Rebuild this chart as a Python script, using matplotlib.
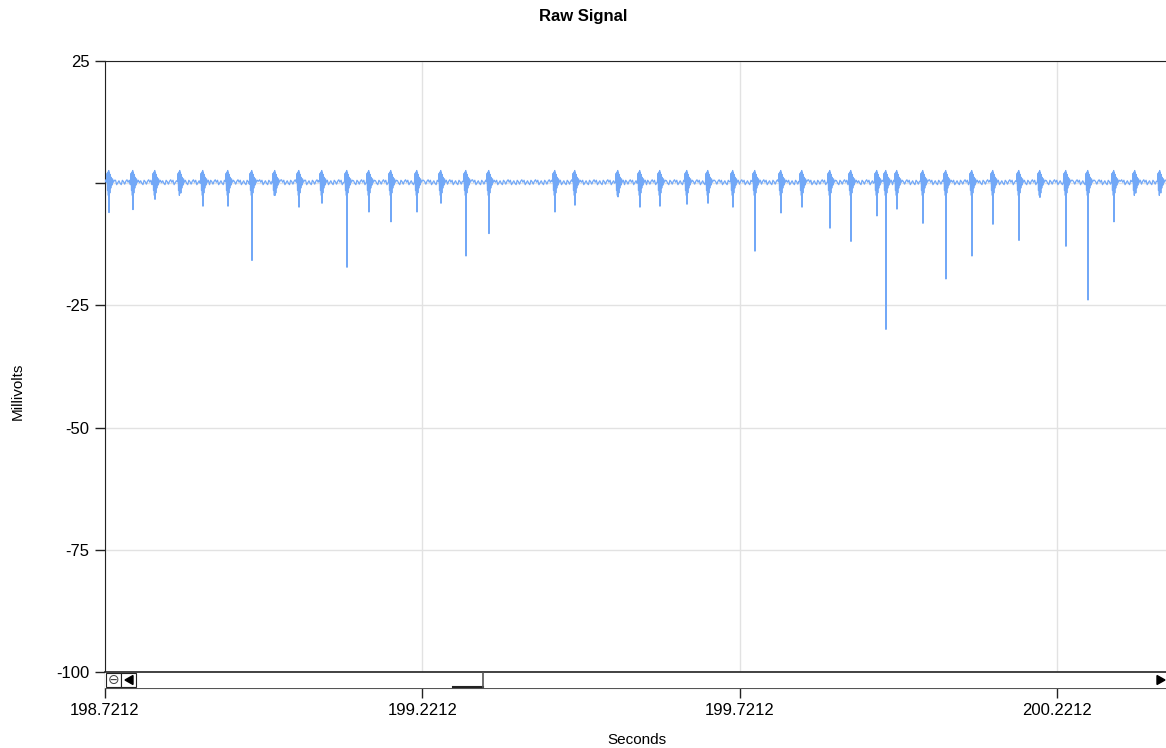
import numpy as np
import matplotlib
matplotlib.use('Agg')
import matplotlib.pyplot as plt
from matplotlib.patches import Rectangle, Polygon

plt.rcParams['font.family'] = ['Liberation Sans', 'DejaVu Sans']

# beat (spike) times in seconds and the depth of each downward spike in mV
beat_times = [198.7275, 198.7653, 198.8000, 198.8394, 198.8756, 198.9150, 198.9528,
              198.9890, 199.0269, 199.0631, 199.1025, 199.1371, 199.1718, 199.2128,
              199.2506, 199.2900, 199.3262, 199.4302, 199.4617, 199.5295, 199.5641,
              199.5956, 199.6382, 199.6713, 199.7106, 199.7453, 199.7863, 199.8194,
              199.8635, 199.8966, 199.9375, 199.9517, 199.9690, 200.0100, 200.0462,
              200.0872, 200.1203, 200.1613, 200.1943, 200.2353, 200.2700, 200.3109,
              200.3440, 200.3834]
spike_depths = [-6.0, -5.4, -3.3, -2.0, -4.7, -4.7, -15.8, -2.5, -4.9, -4.1, -17.2,
                -5.9, -7.9, -5.9, -4.1, -14.9, -10.3, -5.9, -4.5, -2.8, -4.9, -4.7,
                -4.3, -4.1, -4.9, -13.9, -6.1, -4.9, -9.2, -11.9, -6.7, -29.9, -5.3,
                -8.2, -19.6, -14.9, -8.4, -11.7, -2.9, -12.9, -23.9, -7.9, -2.0, -0.8]

# shape of one complex around the spike (ms offset, mV); None marks the spike sample
complex_ms = [-4.0, -3.0, -2.3, -1.6, -1.0, -0.5, 0.0, 0.6, 1.3, 2.0, 2.8, 3.6, 4.5,
              5.5, 7.0, 8.5]
complex_mv = [0.3, 2.0, -1.5, 2.3, -2.5, 2.6, None, 2.2, -2.0, 1.8, -1.0, 1.2, -0.4,
              0.9, 0.2, 0.6]

# small baseline ripple between complexes, one value every 1.8 ms
ripple_mv = [0.7, 0.2, 0.6, -0.3, 0.1, 0.5, 0.0, -0.3, 0.6, 0.3, -0.2, 0.4]
ripple_step_ms = 1.8

x_start, x_end = 198.7212, 200.3929
x_ticks = [198.7212, 199.2212, 199.7212, 200.2212]
y_ticks = [25, 0, -25, -50, -75, -100]
y_tick_labels = ['25', '', '-25', '-50', '-75', '-100']

# assemble the trace point by point from the arrays above
t_pts, v_pts = [], []
k = 0
t = x_start
first_pre = beat_times[0] + complex_ms[0] / 1000
while t < first_pre:
    t_pts.append(t)
    v_pts.append(ripple_mv[k % len(ripple_mv)])
    k += 1
    t += ripple_step_ms / 1000
for i, bt in enumerate(beat_times):
    nxt = beat_times[i + 1] + complex_ms[0] / 1000 if i + 1 < len(beat_times) else x_end + 0.01
    for dt, v in zip(complex_ms, complex_mv):
        tt = bt + dt / 1000
        if tt >= nxt:
            break
        t_pts.append(tt)
        v_pts.append(spike_depths[i] if v is None else v)
    t = bt + (complex_ms[-1] + ripple_step_ms) / 1000
    while t < nxt:
        t_pts.append(t)
        v_pts.append(ripple_mv[k % len(ripple_mv)])
        k += 1
        t += ripple_step_ms / 1000

W, H = 1166, 748
fig = plt.figure(figsize=(W / 100, H / 100), dpi=100)
ax = fig.add_axes([105 / W, (H - 688) / H, (W - 105) / W, (688 - 61) / H])

ax.plot(t_pts, v_pts, color='#72a8f7', linewidth=0.9, zorder=3)

bottom_mv = -100 - 16 / 4.888
ax.set_xlim(x_start, x_end)
ax.set_ylim(bottom_mv, 25)
ax.set_xticks(x_ticks)
ax.set_xticklabels([f'{v:.4f}' for v in x_ticks])
ax.set_yticks(y_ticks)
ax.set_yticklabels(y_tick_labels)
ax.tick_params(axis='both', length=7, width=1, color='#222222', labelsize=12, pad=4)
ax.grid(True, color='#e2e2e2', linewidth=1, zorder=0)
ax.spines['right'].set_visible(False)
ax.spines['top'].set_color('#222222')
ax.spines['left'].set_color('#222222')
ax.spines['bottom'].set_color('#555555')

fig.text(583 / W, 1 - 16 / H, 'Raw Signal', ha='center', va='center',
         fontsize=12, fontweight='bold')
fig.text(18 / W, 1 - 391 / H, 'Millivolts', ha='center', va='center',
         rotation=90, fontsize=11)
fig.text(637 / W, 1 - 740 / H, 'Seconds', ha='center', va='center', fontsize=11)

# scrollbar strip drawn on a pixel-coordinate overlay
ov = fig.add_axes([0, 0, 1, 1])
ov.set_xlim(0, W)
ov.set_ylim(H, 0)
ov.axis('off')
ov.patch.set_alpha(0)
ov.add_patch(Rectangle((105, 672), W - 105, 16, facecolor='white', edgecolor='none', zorder=1))
ov.plot([105, W], [672, 672], color='#222222', linewidth=1.2, zorder=2)
ov.add_patch(Rectangle((106, 673), 15, 14, facecolor='white', edgecolor='#222222', linewidth=0.8, zorder=2))
ov.add_patch(Rectangle((121, 673), 15, 14, facecolor='white', edgecolor='#222222', linewidth=0.8, zorder=2))
ov.text(113.5, 680, '\u2296', ha='center', va='center', fontsize=10, color='#444444',
        family=['DejaVu Sans'], zorder=3)
ov.add_patch(Polygon([[125, 680], [133, 675.5], [133, 684.5]], closed=True, color='black', zorder=3))
ov.add_patch(Polygon([[1165, 680], [1157, 675.5], [1157, 684.5]], closed=True, color='black', zorder=3))
ov.plot([453, 483], [687, 687], color='#222222', linewidth=1.5, zorder=3)
ov.plot([483, 483], [673, 687], color='#555555', linewidth=1.2, zorder=3)

fig.savefig('out.png', dpi=100)
